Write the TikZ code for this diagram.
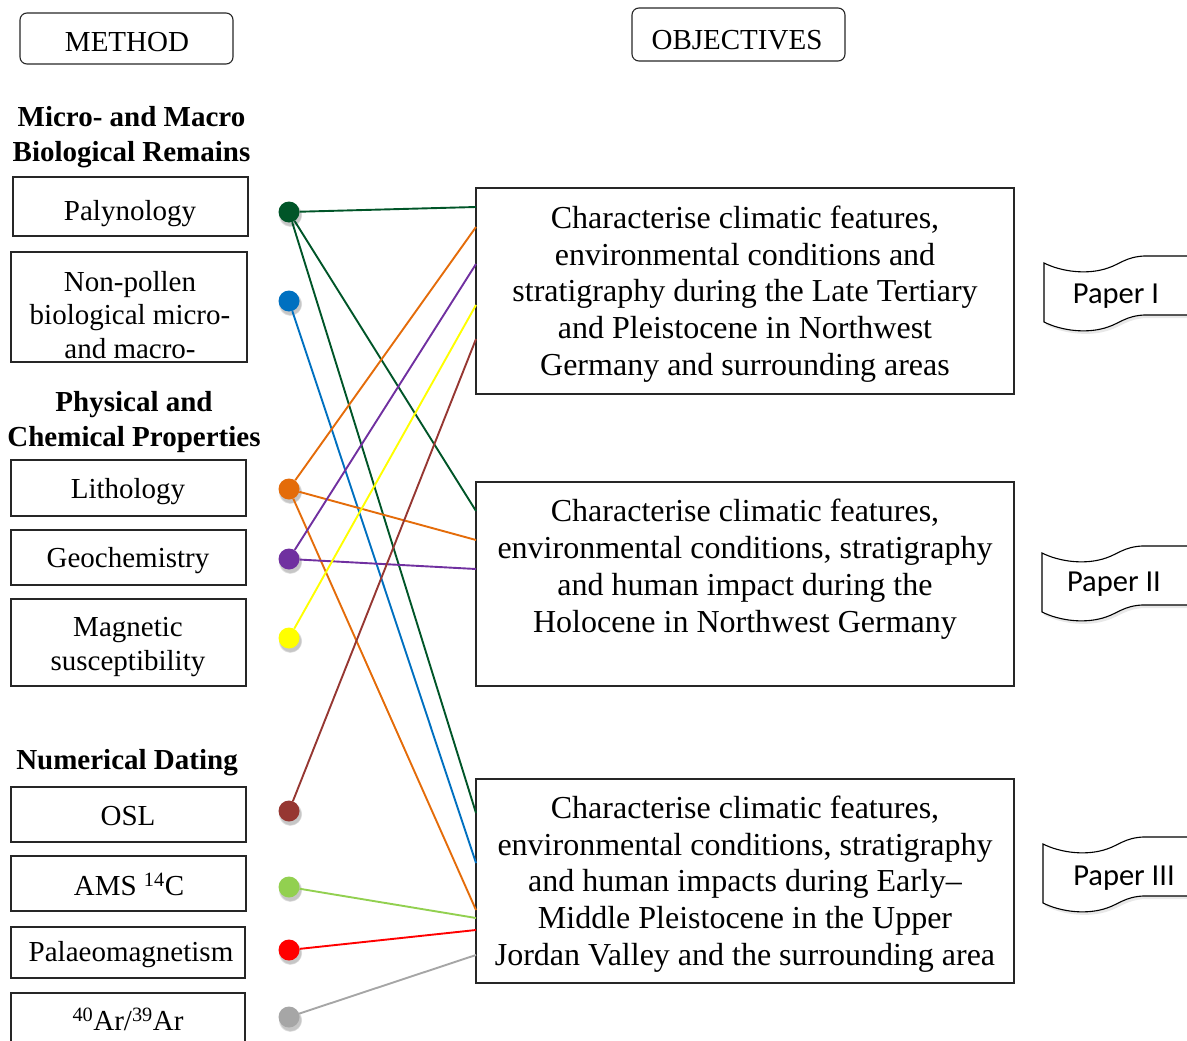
\documentclass[tikz,border=0pt]{standalone}
\usepackage{fontspec}
\setmainfont{Liberation Serif}
\newfontfamily\calfont{Carlito}
\usetikzlibrary{shadows}
\definecolor{cdg}{RGB}{0,85,40}
\definecolor{cbl}{RGB}{0,112,192}
\definecolor{cor}{RGB}{228,108,10}
\definecolor{cpu}{RGB}{112,48,160}
\definecolor{cye}{RGB}{255,255,0}
\definecolor{cbr}{RGB}{150,55,50}
\definecolor{clg}{RGB}{146,208,80}
\definecolor{cre}{RGB}{255,0,0}
\definecolor{cgr}{RGB}{166,166,166}
\newcommand\boxat[6][frame]{\node[#1, minimum width={(#5-#3)*1pt}, minimum height={(#6-#4)*1pt}] (#2) at ({(#3+#5)/2},{(#4+#6)/2}) {};}
\newcommand\bannerpath{(0,0) .. controls (18,9) and (44,12) .. (64,5) .. controls (76,1) and (82,-6) .. (100,-7) -- (170,-7) -- (170,52) -- (100,52) .. controls (82,53) and (76,60) .. (64,64) .. controls (44,71) and (18,68) .. (0,59) -- cycle}
\begin{document}
\begin{tikzpicture}[x=1pt,y=-1pt,
  frame/.style={draw=black!85, line width=1.1pt, rectangle, inner sep=0pt, outer sep=0pt},
  rframe/.style={frame, rounded corners=7pt},
  ltxt/.style={font=\fontsize{29}{33.5}\selectfont, align=center, inner sep=0pt},
  htxt/.style={font=\fontsize{29}{35}\selectfont\bfseries, align=center, inner sep=0pt},
  otxt/.style={font=\fontsize{32}{36.8}\selectfont, align=center, inner sep=0pt},
  ptxt/.style={font=\calfont\fontsize{30.5}{36}\selectfont, inner sep=0pt},
  dot/.style={circle, minimum size=21pt, inner sep=0pt,
    circular drop shadow={shadow xshift=1pt, shadow yshift=-2.5pt, shadow scale=1.15, opacity=0.45}},
  conn/.style={line width=1.9pt},
  banner/.style={draw=black, line width=1.1pt, fill=white,
    drop shadow={shadow xshift=2pt, shadow yshift=-3pt, opacity=0.18}}]
\useasboundingbox (0,0) rectangle (1187,1041);
\clip (0,0) rectangle (1187,1041);

% titles
\boxat[rframe]{method}{20}{13}{233}{64}
\node[ltxt] (tmethod) at (127,42) {METHOD};
\boxat[rframe]{objectives}{632}{8}{845}{61}
\node[ltxt] (tobjectives) at (737,40) {OBJECTIVES};

% headers
\node[htxt] (hbio) at (131.5,137) {Micro- and Macro\\Biological Remains};
\node[htxt] (hphys) at (134,422) {Physical and\\Chemical Properties};
\node[htxt] (hdat) at (127,763) {Numerical Dating};

% method boxes
\boxat{paly}{13}{177}{248}{236}
\node[ltxt] (tpaly) at (130,214) {Palynology};
\boxat{np}{11}{252}{247}{362}
\node[ltxt] (tnp) at (130,315) {Non-pollen\\biological micro-\\and macro-};
\boxat{lith}{11}{460}{246}{516}
\node[ltxt] (tlith) at (128,492) {Lithology};
\boxat{geo}{11}{530}{246}{585}
\node[ltxt] (tgeo) at (128,561) {Geochemistry};
\boxat{mag}{11}{599}{246}{686}
\node[ltxt] (tmag) at (128,647) {Magnetic\\susceptibility};
\boxat{osl}{11}{787}{246}{842}
\node[ltxt] (tosl) at (128,816) {OSL};
\boxat{ams}{11}{856}{246}{911}
\node[ltxt] (tams) at (129,884) {AMS \textsuperscript{14}C};
\boxat{pal}{11}{927}{245}{978}
\node[ltxt] (tpal) at (131,955) {Palaeomagnetism};
\boxat{ar}{11}{993}{245}{1060}
\node[ltxt] (tar) at (128,1019) {\textsuperscript{40}Ar/\textsuperscript{39}Ar};

% objective boxes
\boxat{o1}{476}{188}{1014}{394}
\node[otxt] (to1) at (745,294) {Characterise climatic features,\\environmental conditions and\\stratigraphy during the Late Tertiary\\and Pleistocene in Northwest\\Germany and surrounding areas};
\boxat{o2}{476}{482}{1014}{686}
\node[otxt] (to2) at (745,569) {Characterise climatic features,\\environmental conditions, stratigraphy\\and human impact during the\\Holocene in Northwest Germany};
\boxat{o3}{476}{779}{1014}{983}
\node[otxt] (to3) at (745,884) {Characterise climatic features,\\environmental conditions, stratigraphy\\and human impacts during Early--\\Middle Pleistocene in the Upper\\Jordan Valley and the surrounding area};

% paper banners
\begin{scope}[shift={(1044,263)}]
  \draw[banner] \bannerpath;
\end{scope}
\node[ptxt] (p1) at (1116,296) {Paper I};
\begin{scope}[shift={(1042,553)}]
  \draw[banner] \bannerpath;
\end{scope}
\node[ptxt] (p2) at (1114,584) {Paper II};
\begin{scope}[shift={(1043,844)}]
  \draw[banner] \bannerpath;
\end{scope}
\node[ptxt] (p3) at (1124,878) {Paper III};

% end points on objective boxes
\coordinate (o1a) at (476,207);
\coordinate (o1b) at (476,227);
\coordinate (o1c) at (476,264);
\coordinate (o1d) at (476,305);
\coordinate (o1e) at (476,339);
\coordinate (o2a) at (476,511);
\coordinate (o2b) at (476,540);
\coordinate (o2c) at (476,569);
\coordinate (o3a) at (476,813);
\coordinate (o3b) at (476,863);
\coordinate (o3c) at (476,910);
\coordinate (o3d) at (476,918);
\coordinate (o3e) at (476,930);
\coordinate (o3f) at (476,955);

% dots
\node[dot, fill=cdg] (dpaly) at (289,212) {};
\node[dot, fill=cbl] (dnp) at (289,301) {};
\node[dot, fill=cor] (dlith) at (289,489) {};
\node[dot, fill=cpu] (dgeo) at (289,559) {};
\node[dot, fill=cye] (dmag) at (289,638) {};
\node[dot, fill=cbr] (dosl) at (289,811) {};
\node[dot, fill=clg] (dams) at (289,887) {};
\node[dot, fill=cre] (dpal) at (289,950) {};
\node[dot, fill=cgr] (dar) at (289,1017) {};

% connectors
\draw[conn, cdg] (dpaly) -- (o1a);
\draw[conn, cdg] (dpaly) -- (o2a);
\draw[conn, cdg] (dpaly) -- (o3a);
\draw[conn, cbl] (dnp) -- (o3b);
\draw[conn, cor] (dlith) -- (o1b);
\draw[conn, cor] (dlith) -- (o2b);
\draw[conn, cor] (dlith) -- (o3c);
\draw[conn, cpu] (dgeo) -- (o1c);
\draw[conn, cpu] (dgeo) -- (o2c);
\draw[conn, cye] (dmag) -- (o1d);
\draw[conn, cbr] (dosl) -- (o1e);
\draw[conn, clg] (dams) -- (o3d);
\draw[conn, cre] (dpal) -- (o3e);
\draw[conn, cgr] (dar) -- (o3f);
\end{tikzpicture}
\end{document}
